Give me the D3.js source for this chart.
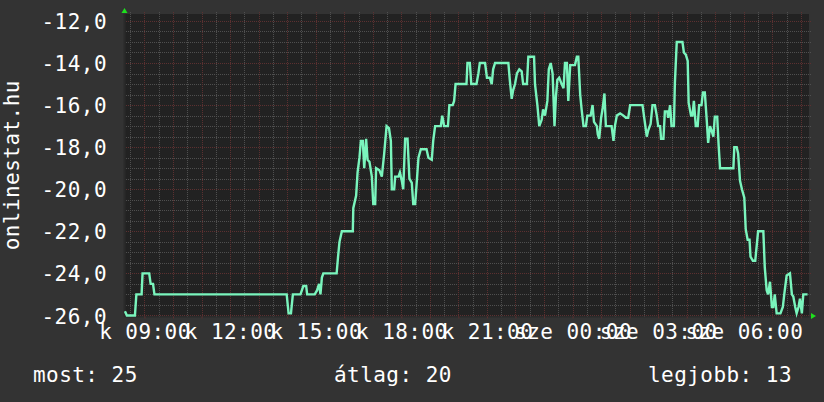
<!DOCTYPE html>
<html>
<head>
<meta charset="utf-8">
<script src="https://d3js.org/d3.v7.min.js"></script>
<style>
body{margin:0;background:#333333;}
svg{display:block;}
text{font-family:"DejaVu Sans Mono",monospace;font-size:21px;fill:#ffffff;letter-spacing:0.45px;}
</style>
</head>
<body>
<div id="chart"></div>
<script>
// minutes counted from tuesday 00:00
var minutes = [
499,503,520,523,534,536,550,553,558,561,
839,843,848,852,868,874,880,882,898,903,
907,910,913,916,944,947,950,955,978,979,
985,988,992,995,999,1002,1006,1009,1013,1018,
1021,1025,1027,1034,1039,1044,1049,1054,1058,1060,
1065,1067,1074,1077,1081,1084,1088,1093,1097,1102,
1105,1109,1112,1116,1121,1133,1137,1144,1147,1151,
1163,1166,1170,1178,1181,1188,1191,1194,1217,1219,
1224,1227,1238,1242,1245,1256,1260,1266,1270,1273,
1277,1305,1308,1312,1315,1319,1323,1328,1333,1336,
1344,1347,1359,1361,1366,1370,1375,1378,1382,1387,
1390,1394,1398,1402,1405,1408,1412,1417,1421,1424,
1428,1431,1435,1445,1449,1452,1456,1459,1463,1468,
1471,1478,1482,1485,1491,1493,1496,1500,1503,1507,
1510,1522,1526,1529,1533,1540,1547,1552,1557,1561,
1587,1590,1596,1599,1604,1608,1613,1617,1620,1624,
1626,1631,1634,1639,1641,1645,1648,1653,1655,1659,
1671,1674,1678,1682,1684,1689,1692,1695,1699,1703,
1706,1711,1714,1718,1722,1725,1729,1732,1736,1739,
1744,1747,1750,1778,1780,1785,1788,1792,1796,1801,
1804,1808,1812,1814,1819,1824,1827,1830,1841,1844,
1848,1851,1855,1859,1862,1865,1869,1877,1882,1885,
1890,1897,1901,1904,1908,1911,1915,1918,1922,1925,1934];

var temps = [
-25.8,-26,-26,-25,-25,-24,-24,-24.5,-24.5,-25,
-25,-25.9,-25.9,-25,-25,-24.6,-24.6,-25,-25,-24.8,
-24.5,-25,-24.2,-24,-24,-23.2,-22.5,-22,-22,-20.9,
-20.3,-19.2,-18.5,-17.7,-17.7,-19,-17.6,-18.6,-18.7,-19.4,
-20.7,-20.7,-19,-19.1,-19.4,-18.3,-17,-17.1,-17.7,-20,
-20,-19.4,-19.4,-19.2,-19.6,-20,-17.6,-17.6,-19.5,-19.7,
-20.7,-20.7,-19.8,-18.5,-18.1,-18.1,-18.5,-18.6,-17.7,-17,
-17,-16.5,-17,-17,-16,-16,-15.8,-15,-15,-14,
-14,-15,-15,-14.5,-14,-14,-14.7,-14.7,-15,-14.3,
-14,-14,-14.8,-15.7,-15.3,-15,-14.5,-14.3,-14.4,-15,
-15,-13.7,-13.7,-15,-16,-17,-16.7,-16.2,-16.5,-15.8,
-14.3,-14,-14.5,-17,-15.6,-14.8,-14.7,-15,-15.2,-14,
-14,-15.8,-14.1,-14.1,-13.7,-13.7,-15.5,-16.2,-17,-17,
-16.5,-16.5,-16,-16.8,-17,-17.4,-17.6,-16.6,-16.2,-15.45,
-17,-17,-17.7,-17,-16.5,-16.4,-16.5,-16.6,-16.6,-16,
-16,-16.5,-17.5,-17.2,-16.9,-16,-16,-16.5,-17,-17,
-17.6,-17.6,-16.3,-16.3,-16.6,-16,-17,-17,-15,-13,
-13,-13.5,-13.6,-13.9,-15.9,-16.5,-16.5,-15.8,-17,-17,
-16,-16,-15.4,-15.4,-16.7,-17.8,-17,-17.2,-17.5,-16.55,
-16.55,-17.9,-19,-19,-18,-18,-18.3,-19.6,-20,-20.4,
-21.9,-22.4,-22.4,-23.2,-23.4,-23.4,-22.7,-22,-22,-23.7,
-24.8,-25,-24.4,-25.6,-25.6,-25,-25.9,-25.9,-25.6,-25,
-24.1,-24,-25,-25.1,-25.6,-25.9,-25.6,-25.2,-25.9,-25,-25];

var yTicks = [-26,-24,-22,-20,-18,-16,-14,-12];
var dayNames = ["v","h","k","sze","cs","p","szo"];
var yTitle = "onlinestat.hu";
var legendText = ["most: 25","átlag: 20","legjobb: 13"];
var startMinute = 497, endMinute = 1937;

var margin = {top: 14, left: 124, right: 15, bottom: 85.5},
    width = 824 - margin.left - margin.right,
    height = 402 - margin.top - margin.bottom;

var toDate = function(m){ return new Date(2024, 0, 2, 0, m); };  // 2024-01-02 is a tuesday

var svgRoot = d3.select("#chart")
.append("svg")
.attr("width", 824)
.attr("height", 402);

svgRoot.append("rect")
.attr("width", 824).attr("height", 402)
.attr("fill", "#333333");

var svg = svgRoot.append("g")
.attr("transform", "translate("+margin.left+","+margin.top+")");

var x = d3.scaleTime()
.domain([toDate(startMinute), toDate(endMinute)])
.range([0, width]);

var y = d3.scaleLinear()
.domain([-26.05, -11.67])
.range([height, 0]);

// plot background
svg.append("rect")
.attr("width", width)
.attr("height", height)
.attr("fill", "#222222");

// grid, minor first then the red hour / 2 degree lines
var gridStyle = function(g, color){
    g.select(".domain").remove();
    g.selectAll("line")
     .attr("stroke", color)
     .attr("stroke-dasharray", "1,1")
     .attr("shape-rendering", "crispEdges");
};

svg.append("g")
.attr("transform", "translate(0,"+height+")")
.call(d3.axisBottom(x).ticks(d3.timeMinute.every(30)).tickSize(-height-2).tickSizeOuter(0).tickFormat(""))
.call(gridStyle, "#4f4f4f");

svg.append("g")
.call(d3.axisLeft(y).tickValues(d3.range(-26, -11.9, 0.5)).tickSize(-width-2).tickSizeOuter(0).tickFormat(""))
.call(gridStyle, "#4f4f4f");

svg.append("g")
.attr("transform", "translate(0,"+height+")")
.call(d3.axisBottom(x).ticks(d3.timeHour.every(1)).tickSize(-height-2).tickSizeOuter(0).tickFormat(""))
.call(gridStyle, "#5c3030");

svg.append("g")
.call(d3.axisLeft(y).tickValues(yTicks).tickSize(-width-2).tickSizeOuter(0).tickFormat(""))
.call(gridStyle, "#5c3030");

// little tick marks under the x axis
svg.append("g")
.attr("transform", "translate(0,"+height+")")
.call(d3.axisBottom(x).ticks(d3.timeHour.every(1)).tickSize(2).tickSizeOuter(0).tickFormat(""))
.call(function(g){
    g.select(".domain").attr("stroke", "#2a2a2a");
    g.selectAll("line").attr("stroke", "#5c3030");
});

svg.append("line")
.attr("x1", 0.5).attr("x2", 0.5)
.attr("y1", 0).attr("y2", height)
.attr("stroke", "#2a2a2a")
.attr("stroke-width", 2);

// y labels
svg.append("g")
.attr("transform", "translate(-17,0)")
.call(d3.axisLeft(y).tickValues(yTicks).tickSize(0)
      .tickFormat(function(d){ return d3.format(".1f")(d).replace("−","-").replace(".", ","); }))
.call(function(g){
    g.select(".domain").remove();
    g.selectAll("text")
     .attr("fill", "#ffffff")
     .attr("font-size", 21)
     .attr("font-family", "DejaVu Sans Mono, monospace")
     .attr("dy", "0.36em")
     .attr("x", 0);
});

// x labels, hungarian day names
var hourFmt = d3.timeFormat("%H:%M");
svg.append("g")
.attr("transform", "translate(0,"+height+")")
.call(d3.axisBottom(x).ticks(d3.timeHour.every(3)).tickSize(0)
      .tickFormat(function(d){ return dayNames[d.getDay()] + " " + hourFmt(d); }))
.call(function(g){
    g.select(".domain").remove();
    g.selectAll("text")
     .attr("fill", "#ffffff")
     .attr("font-size", 21)
     .attr("font-family", "DejaVu Sans Mono, monospace")
     .attr("dy", null)
     .attr("y", 22);
});

// the data line
var rows = minutes.map(function(m, i){ return {date: toDate(m), value: temps[i]}; });

var line = d3.line()
.x(function(d){ return x(d.date); })
.y(function(d){ return y(d.value); });

svg.append("path")
.datum(rows)
.attr("fill", "none")
.attr("stroke", "#7af5bd")
.attr("stroke-width", 2.4)
.attr("d", line);

// green arrows at axis ends
svg.append("path")
.attr("d", "M-2.5,-1 L3.5,-1 L0.5,-6 Z")
.attr("fill", "#1ee01e");

svg.append("path")
.attr("d", "M"+(width+2)+","+(height-3.5)+" L"+(width+2)+","+(height+2.5)+" L"+(width+7)+","+(height-0.5)+" Z")
.attr("fill", "#1ee01e");

// y title
svgRoot.append("text")
.text(yTitle)
.attr("text-anchor", "middle")
.attr("transform", "translate(18.5,"+(margin.top+height/2)+")rotate(-90)");

// legend line at the bottom
var legend = svgRoot.append("g");
legend.append("text").text(legendText[0])
.attr("x", 33).attr("y", 382);
legend.append("text").text(legendText[1])
.attr("x", 334).attr("y", 382);
legend.append("text").text(legendText[2])
.attr("text-anchor", "end")
.attr("x", 792).attr("y", 382);
</script>
</body>
</html>
